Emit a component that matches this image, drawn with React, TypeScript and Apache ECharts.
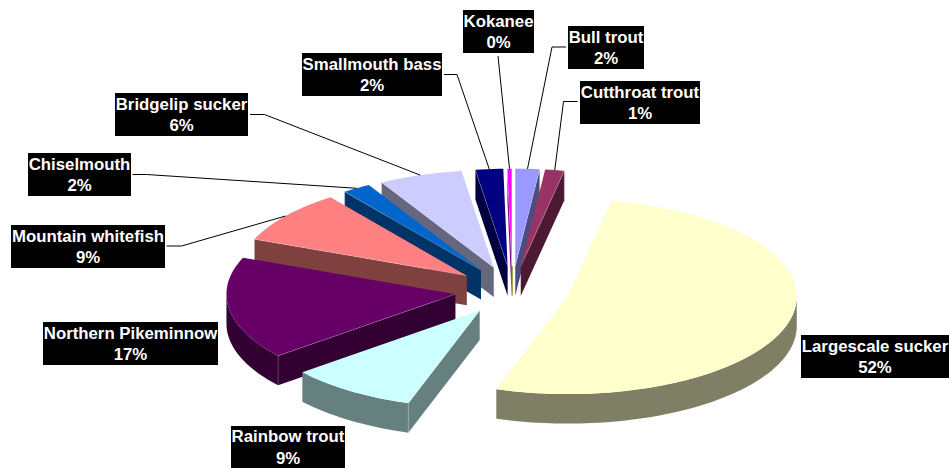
import React, { useEffect, useRef } from "react";
import * as echarts from "echarts";

// ---- data, in the chart's clockwise order from 12 o'clock ----
const species = [
  "Bull trout",
  "Cutthroat trout",
  "Largescale sucker",
  "Rainbow trout",
  "Northern Pikeminnow",
  "Mountain whitefish",
  "Chiselmouth",
  "Bridgelip sucker",
  "Smallmouth bass",
  "Kokanee",
  "",
];
const shares = [1.7, 1.35, 52, 9.05, 17, 8.75, 2, 5.9, 1.95, 0.3, 0];
const colours = [
  "#9999FF",
  "#993366",
  "#FFFFCC",
  "#CCFFFF",
  "#660066",
  "#FF8080",
  "#0066CC",
  "#CCCCFF",
  "#000080",
  "#FF00FF",
  "#FFFF00",
];

// ---- layout ----
const CX = 512.2;
const CY = 290.5;
const RX = 229;
const RY = 97.5;
const DEPTH = 29.5;
const EXPLODE = 57.4;
const TILT = 0.4236;
const FONT = 'bold 16.8px "Liberation Sans", Arial, sans-serif';

// label box [x0, y0, x1, y1], and optional leader start and elbow
const labelBoxes: Record<string, number[]> = {
  "Bull trout": [568, 26, 644, 69],
  "Cutthroat trout": [580, 81, 700, 124],
  "Largescale sucker": [801, 335, 949, 378],
  "Rainbow trout": [231, 426, 345, 468],
  "Northern Pikeminnow": [43, 322, 218, 365],
  "Mountain whitefish": [11, 225, 165, 268],
  Chiselmouth: [28, 153, 131, 196],
  "Bridgelip sucker": [115, 93, 248, 136],
  "Smallmouth bass": [302, 53, 442, 96],
  Kokanee: [463, 10, 534, 53],
};
const leaderStarts: Record<string, number[][]> = {
  "Bull trout": [[566, 47], [552, 47]],
  "Cutthroat trout": [[577.5, 101.5], [563.5, 101.5]],
  "Mountain whitefish": [[166.5, 246], [181.5, 246]],
  Chiselmouth: [[132.5, 174.5], [146.5, 174.5]],
  "Bridgelip sucker": [[250, 114.5], [264.5, 114.5]],
  "Smallmouth bass": [[444, 74.5], [457, 74.5]],
  Kokanee: [[498, 56]],
};

const total = shares.reduce((a, b) => a + b, 0);
const rad = (d: number) => (d * Math.PI) / 180;

const slices = shares.map((v, i) => {
  const before = shares.slice(0, i).reduce((a, b) => a + b, 0);
  const a0 = (before / total) * 360;
  const a1 = ((before + v) / total) * 360;
  const mid = (a0 + a1) / 2;
  const ax = CX + EXPLODE * Math.sin(rad(mid));
  const ay = CY - EXPLODE * TILT * Math.cos(rad(mid));
  return { name: species[i], v, a0, a1, mid, ax, ay, colour: colours[i] };
});

const rimPoint = (s: { ax: number; ay: number }, a: number, dy = 0) => [
  s.ax + RX * Math.sin(rad(a)),
  s.ay - RY * Math.cos(rad(a)) + dy,
];

const arcAngles = (a0: number, a1: number) => {
  const out: number[] = [];
  for (let a = a0; a < a1; a += 1.5) out.push(a);
  out.push(a1);
  return out;
};

const darken = (hex: string) => {
  const n = parseInt(hex.slice(1), 16);
  const h = (c: number) => (c >> 1).toString(16).padStart(2, "0");
  return "#" + h((n >> 16) & 255) + h((n >> 8) & 255) + h(n & 255);
};

// paint the slices farthest from the viewer first
const drawOrder = slices
  .map((s, i) => ({ i, d: Math.abs(s.mid - 180) }))
  .sort((p, q) => q.d - p.d)
  .map((p) => p.i);

const EDGE = "rgba(255,255,255,0.3)";

function renderSlice(params: any) {
  const s = slices[drawOrder[params.dataIndex]];
  const dark = darken(s.colour);
  const children: any[] = [];
  if (s.v === 0) {
    children.push({
      type: "line",
      shape: { x1: s.ax, y1: s.ay, x2: s.ax, y2: s.ay + DEPTH },
      style: { stroke: dark, lineWidth: 1 },
    });
    return { type: "group", children };
  }
  const face = (a: number) => {
    const r = rimPoint(s, a);
    const rb = rimPoint(s, a, DEPTH);
    children.push({
      type: "polygon",
      shape: { points: [[s.ax, s.ay], r, rb, [s.ax, s.ay + DEPTH]] },
      style: { fill: dark },
    });
  };
  const startVisible = Math.sin(rad(s.a0)) < 0;
  const endVisible = Math.sin(rad(s.a1)) > 0;
  if (startVisible) face(s.a0);
  if (endVisible) face(s.a1);
  const from = Math.max(s.a0, 90);
  const to = Math.min(s.a1, 270);
  if (from < to) {
    const angles = arcAngles(from, to);
    children.push({
      type: "polygon",
      shape: {
        points: [
          ...angles.map((a) => rimPoint(s, a)),
          ...angles.slice().reverse().map((a) => rimPoint(s, a, DEPTH)),
        ],
      },
      style: { fill: dark },
    });
  }
  children.push({
    type: "polygon",
    shape: {
      points: [[s.ax, s.ay], ...arcAngles(s.a0, s.a1).map((a) => rimPoint(s, a))],
    },
    style: { fill: s.colour },
  });
  const edge = (a: number) =>
    children.push({
      type: "polyline",
      shape: { points: [[s.ax, s.ay], rimPoint(s, a), rimPoint(s, a, DEPTH)] },
      style: { stroke: EDGE, lineWidth: 0.7, fill: "none" },
    });
  if (startVisible) edge(s.a0);
  if (endVisible) edge(s.a1);
  return { type: "group", children };
}

const labelled = slices.filter((s) => s.name !== "");

function renderLabel(params: any) {
  const s = labelled[params.dataIndex];
  const [x0, y0, x1, y1] = labelBoxes[s.name];
  const children: any[] = [];
  const start = leaderStarts[s.name];
  if (start) {
    children.push({
      type: "polyline",
      shape: { points: [...start, rimPoint(s, s.mid)] },
      style: { stroke: "#000000", lineWidth: 1, fill: "none" },
    });
  }
  children.push({
    type: "rect",
    shape: { x: x0, y: y0, width: x1 - x0, height: y1 - y0 },
    style: { fill: "#000000" },
  });
  children.push({
    type: "text",
    x: (x0 + x1) / 2,
    y: (y0 + y1) / 2 + 0.3,
    style: {
      text: s.name + "\n" + Math.round((s.v / total) * 100) + "%",
      font: FONT,
      fill: "#FFFFFF",
      align: "center",
      verticalAlign: "middle",
      lineHeight: 21.5,
    },
  });
  return { type: "group", children };
}

export default function App() {
  const ref = useRef<HTMLDivElement>(null);
  useEffect(() => {
    document.body.style.margin = "0";
    const chart = echarts.init(ref.current!, null, { renderer: "svg" });
    chart.setOption({
      animation: false,
      backgroundColor: "#FFFFFF",
      series: [
        {
          type: "custom",
          coordinateSystem: "none",
          silent: true,
          renderItem: renderSlice,
          data: drawOrder.map((i) => [shares[i]]),
          z: 1,
        },
        {
          type: "custom",
          coordinateSystem: "none",
          silent: true,
          renderItem: renderLabel,
          data: labelled.map((s) => [s.v]),
          z: 2,
        },
      ],
    });
    return () => chart.dispose();
  }, []);
  return <div ref={ref} style={{ width: 949, height: 468 }} />;
}
